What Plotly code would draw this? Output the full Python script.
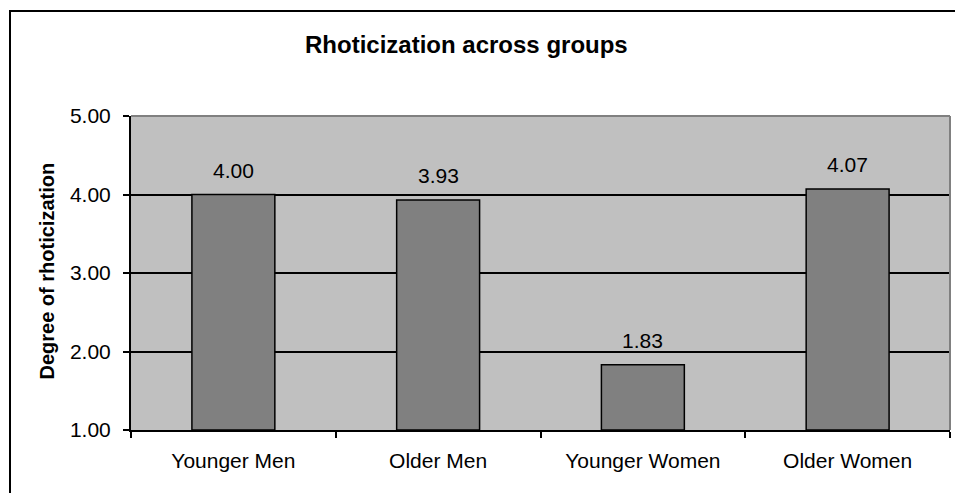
import plotly.graph_objects as go

# Mean degree of rhoticization per speaker group
groups = ["Younger Men", "Older Men", "Younger Women", "Older Women"]
scores = [4.00, 3.93, 1.83, 4.07]
y_ticks = [1.0, 2.0, 3.0, 4.0, 5.0]

W, H = 955, 493
L, R, T, B = 131, 5, 116, 63
pw, ph = W - L - R, H - T - B

def px_x(p):
    return (p - L) / pw

def px_y(p):
    return (H - B - p) / ph

FONT = "Liberation Sans, Arial, sans-serif"
FS = 21

fig = go.Figure()
fig.add_trace(go.Bar(
    x=groups, y=[s - 1.0 for s in scores], base=1.0,
    marker=dict(color="#808080", line=dict(color="black", width=1.5)),
    width=0.405, hoverinfo="skip",
))

# value labels above bars
for g, s in zip(groups, scores):
    fig.add_annotation(x=g, y=s, text=f"{s:.2f}", showarrow=False,
                       yanchor="bottom", yshift=11,
                       font=dict(family=FONT, size=FS, color="black"))

# chart title
fig.add_annotation(xref="paper", yref="paper", x=px_x(466), y=px_y(60),
                   text="<b>Rhoticization across groups</b>", showarrow=False,
                   xanchor="center", yanchor="bottom",
                   font=dict(family=FONT, size=24, color="black"))

# y-axis title
fig.add_annotation(xref="paper", yref="paper", x=px_x(46), y=px_y(271.5),
                   text="<b>Degree of rhoticization</b>", showarrow=False,
                   textangle=-90, xanchor="center", yanchor="middle",
                   font=dict(family=FONT, size=20, color="black"))

# outer chart border (extends past the right and bottom edges)
fig.add_shape(type="rect", xref="paper", yref="paper",
              x0=px_x(10), x1=px_x(1000), y0=px_y(540), y1=px_y(11),
              line=dict(color="black", width=2), layer="above")

# grey top and right edges of the plot area
fig.add_shape(type="line", xref="paper", yref="paper", x0=0, x1=1, y0=1, y1=1,
              line=dict(color="#808080", width=2), layer="above")
fig.add_shape(type="line", xref="paper", yref="paper", x0=1, x1=1, y0=0, y1=1,
              line=dict(color="#808080", width=2), layer="above")

fig.update_layout(
    width=W, height=H,
    margin=dict(l=L, r=R, t=T, b=B, pad=0),
    paper_bgcolor="white", plot_bgcolor="#C0C0C0",
    showlegend=False, bargap=0.595,
    font=dict(family=FONT, size=FS, color="black"),
)
fig.update_xaxes(
    type="category", tickson="boundaries", ticks="outside", ticklen=6,
    tickwidth=1.5, tickcolor="black", showline=True, linecolor="black",
    linewidth=2, showgrid=False, ticklabelstandoff=11,
    tickfont=dict(family=FONT, size=FS, color="black"),
)
fig.update_yaxes(
    range=[1, 5], tickvals=y_ticks, tickformat=".2f", ticks="outside",
    ticklen=6, tickwidth=1.5, tickcolor="black", showline=True,
    linecolor="black", linewidth=2, showgrid=True, gridcolor="black",
    gridwidth=1.5, zeroline=False, ticklabelstandoff=8,
    tickfont=dict(family=FONT, size=FS, color="black"),
)

fig.write_html("out.html")
